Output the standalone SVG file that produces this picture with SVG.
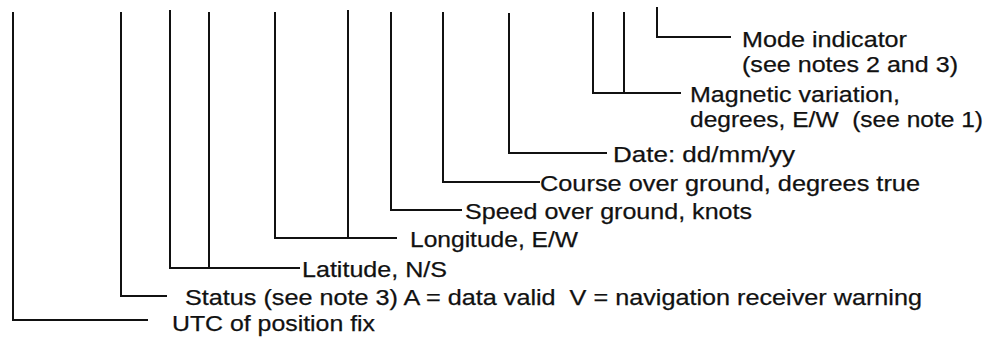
<svg xmlns="http://www.w3.org/2000/svg" width="988" height="338" viewBox="0 0 988 338">
<style>
.c{fill:none;stroke:#111;stroke-width:2}
text{font-family:"Liberation Sans",Arial,sans-serif;font-size:22px;fill:#111;stroke:#111;stroke-width:0.25}
</style>
<rect width="988" height="338" fill="#fff"/>
<g id="connectors" class="c">
<path d="M13,12V320H148"/>
<path d="M121,12V296H167"/>
<path d="M170,10V268H300M209,12V268"/>
<path d="M275,12V238H397M348,10V238"/>
<path d="M391,12V210H462"/>
<path d="M443,12V182H540"/>
<path d="M509,13V153H607"/>
<path d="M593,12V93H681M624,12V93"/>
<path d="M657,7V37H731"/>
</g>
<g id="mode"><text x="742" y="47" textLength="165" lengthAdjust="spacingAndGlyphs">Mode indicator</text><text x="742" y="72" textLength="216" lengthAdjust="spacingAndGlyphs">(see notes 2 and 3)</text></g>
<g id="magvar"><text x="690" y="102" textLength="210" lengthAdjust="spacingAndGlyphs">Magnetic variation,</text><text x="690" y="127" textLength="293" lengthAdjust="spacingAndGlyphs" xml:space="preserve">degrees, E/W  (see note 1)</text></g>
<g id="date"><text x="613" y="162" textLength="182" lengthAdjust="spacingAndGlyphs">Date: dd/mm/yy</text></g>
<g id="course"><text x="540" y="191" textLength="380" lengthAdjust="spacingAndGlyphs">Course over ground, degrees true</text></g>
<g id="speed"><text x="465" y="219" textLength="287" lengthAdjust="spacingAndGlyphs">Speed over ground, knots</text></g>
<g id="longitude"><text x="410" y="247" textLength="168" lengthAdjust="spacingAndGlyphs">Longitude, E/W</text></g>
<g id="latitude"><text x="302" y="277" textLength="145" lengthAdjust="spacingAndGlyphs">Latitude, N/S</text></g>
<g id="status"><text x="185" y="305" textLength="737" lengthAdjust="spacingAndGlyphs" xml:space="preserve">Status (see note 3) A = data valid  V = navigation receiver warning</text></g>
<g id="utc"><text x="172" y="331" textLength="203" lengthAdjust="spacingAndGlyphs">UTC of position fix</text></g>
</svg>
